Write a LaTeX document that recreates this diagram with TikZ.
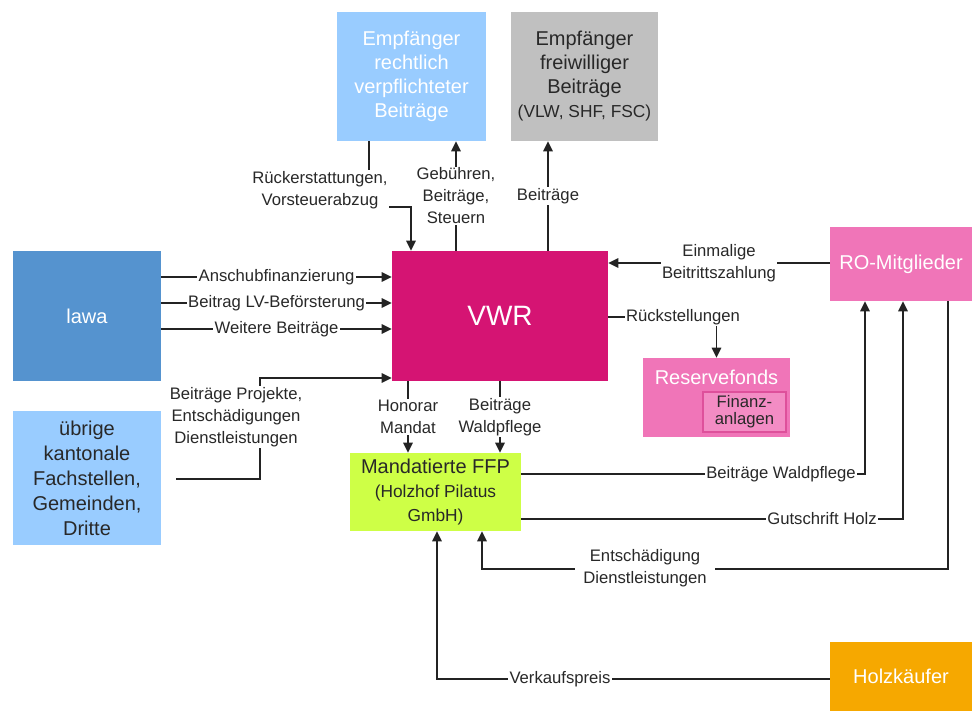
\documentclass[tikz,border=0pt]{standalone}
\usepackage{fontspec}
\setmainfont{Liberation Sans}
\usetikzlibrary{arrows.meta,calc}
\definecolor{cLight}{RGB}{153,204,255}
\definecolor{cGray}{RGB}{192,192,192}
\definecolor{cLawa}{RGB}{85,147,207}
\definecolor{cVWR}{RGB}{213,20,115}
\definecolor{cPink}{RGB}{240,117,184}
\definecolor{cFinFill}{RGB}{243,140,196}
\definecolor{cFinDraw}{RGB}{222,80,155}
\definecolor{cFFP}{RGB}{206,255,70}
\definecolor{cOrange}{RGB}{246,168,0}
\definecolor{cLine}{RGB}{35,35,35}
\definecolor{cText}{RGB}{40,40,40}
\begin{document}
\begin{tikzpicture}[x=0.75pt,y=-0.75pt,
  box/.style={draw=none, inner sep=0pt, align=center, font=\fontsize{15}{18}\selectfont},
  lbl/.style={fill=white, inner sep=1pt, align=center, text=cText, font=\fontsize{12.5}{16.5}\selectfont},
  arr/.style={draw=cLine, line width=1.3pt, -{Triangle[length=7.5pt,width=7pt]}},
  ln/.style={draw=cLine, line width=1.3pt}]
\useasboundingbox (0,0) rectangle (972,711);

% boxes
\node[box, fill=cLight, text=white, minimum width=111.75pt, minimum height=96.75pt] (er) at (411.5,76.5)
  {Empfänger\\rechtlich\\verpflichteter\\Beiträge};
\node[box, fill=cGray, text=cText, minimum width=110.25pt, minimum height=96.75pt] (ef) at (584.5,76.5)
  {Empfänger\\freiwilliger\\Beiträge\\{\fontsize{13}{16}\selectfont (VLW, SHF, FSC)}};
\node[box, fill=cLawa, text=white, minimum width=111pt, minimum height=97.5pt] (lawa) at (87,316) {lawa};
\node[box, fill=cLight, text=cText, minimum width=111pt, minimum height=100.5pt,
  font=\fontsize{15}{18.75}\selectfont] (ueb) at (87,478)
  {übrige\\kantonale\\Fachstellen,\\Gemeinden,\\Dritte};
\node[box, fill=cVWR, text=white, minimum width=162pt, minimum height=97.5pt,
  font=\fontsize{21}{24}\selectfont] (vwr) at (500,316) {VWR};
\node[box, fill=cPink, text=white, minimum width=106.5pt, minimum height=55.5pt] (ro) at (901,264) {RO-Mitglieder};
\node[box, fill=cPink, minimum width=110.25pt, minimum height=59.25pt] (res) at (716.5,397.5) {};
\node[box, text=white] (restxt) at (716.5,377) {Reservefonds};
\node[box, fill=cFinFill, draw=cFinDraw, line width=0.8pt, text=cText, minimum width=62.25pt, minimum height=30pt,
  font=\fontsize{12.5}{12.75}\selectfont] (fin) at (744.5,412) {Finanz-\\anlagen};
\node[box, fill=cFFP, text=cText, minimum width=128.25pt, minimum height=58.5pt] (ffp) at (435.5,492)
  {{\fontsize{15}{18}\selectfont Mandatierte FFP}\\[-0.3pt]{\fontsize{13}{18}\selectfont (Holzhof Pilatus}\\{\fontsize{13}{18}\selectfont GmbH)}};
\node[box, fill=cOrange, text=white, minimum width=106.5pt, minimum height=51.75pt] (hk) at (901,676.5) {Holzkäufer};

% top connectors
\draw[arr] ($(er.south)+(-42.5,0)$) -- ++(0,66) -| ($(vwr.north)+(-89,0)$);
\node[lbl, minimum width=102pt, minimum height=30pt] (lr) at (320,190) {Rückerstattungen,\\Vorsteuerabzug};
\draw[arr] ($(vwr.north)+(-44,0)$) -- ($(er.south)+(44.5,0)$)
  node[midway, lbl] (lg) {Gebühren,\\Beiträge,\\Steuern};
\draw[arr] ($(vwr.north)+(48,0)$) -- ($(ef.south)+(-36.5,0)$)
  node[midway, lbl] (lb) {Beiträge};

% lawa connectors
\draw[arr] ($(lawa.east)+(0,-39)$) -- ($(vwr.west)+(0,-39)$) node[midway, lbl] (l1) {Anschubfinanzierung};
\draw[arr] ($(lawa.east)+(0,-13)$) -- ($(vwr.west)+(0,-13)$) node[midway, lbl] (l2) {Beitrag LV-Beförsterung};
\draw[arr] ($(lawa.east)+(0,13)$) -- ($(vwr.west)+(0,13)$) node[midway, lbl] (l3) {Weitere Beiträge};

% uebrige
\coordinate (ps) at ($(ueb.east)+(15,1)$);
\draw[arr] (ps) -- (260,479) -- (260,378) -- (vwr.west |- 0,378);
\node[lbl] (lp) at (236,417) {Beiträge Projekte,\\Entschädigungen\\Dienstleistungen};

% VWR -> FFP
\draw[arr] ($(vwr.south)+(-92,0)$) -- ($(ffp.north)+(-27.5,0)$) node[midway, lbl] (lh) {Honorar\\Mandat};
\draw[arr] (vwr.south) -- ($(ffp.north)+(64.5,0)$) node[midway, lbl] (lw) {Beiträge\\Waldpflege};

% RO -> VWR
\draw[arr] ($(ro.west)+(0,-1)$) -- ($(vwr.east |- ro.west)+(0,-1)$) node[midway, lbl] (le) {Einmalige\\Beitrittszahlung};

% VWR -> Reservefonds
\draw[arr] ($(vwr.east)+(0,1)$) -| (res.north);
\node[lbl] (lr2) at (683,317) {Rückstellungen};

% FFP -> RO
\draw[arr] ($(ffp.east)+(0,-18)$) -| ($(ro.south)+(-36,0)$);
\node[lbl] (lbw) at (781,474) {Beiträge Waldpflege};
\draw[arr] ($(ffp.east)+(0,27)$) -| ($(ro.south)+(2,0)$);
\node[lbl] (lgh) at (822,519) {Gutschrift Holz};

% RO -> FFP
\draw[arr] ($(ro.south)+(47,0)$) -- ++(0,268) -| ($(ffp.south)+(46.5,0)$);
\node[lbl, inner xsep=6pt] (led) at (645,568) {Entschädigung\\Dienstleistungen};

% Holzkaeufer -> FFP
\draw[arr] ($(hk.west)+(0,2.5)$) -| ($(ffp.south)+(1.5,0)$);
\node[lbl] (lv) at (560,679) {Verkaufspreis};
\end{tikzpicture}
\end{document}
